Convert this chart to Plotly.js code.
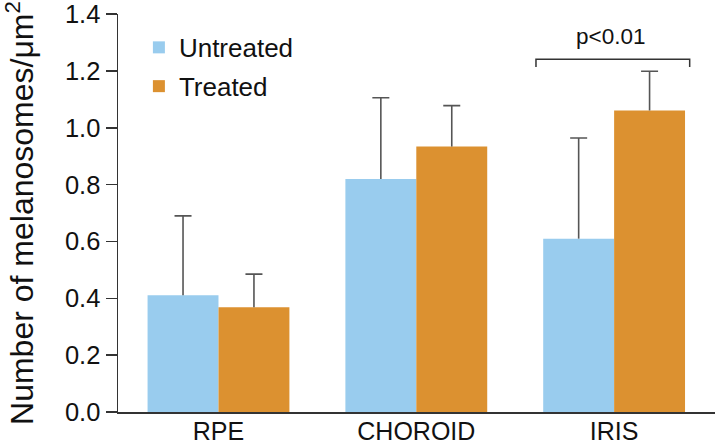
<!DOCTYPE html>
<html>
<head>
<meta charset="utf-8">
<script src="https://cdn.plot.ly/plotly-3.0.1.min.js"></script>
<style>
  html, body { margin: 0; padding: 0; background: #fff; }
  #chart { width: 716px; height: 442px; }
</style>
</head>
<body>
<div id="chart"></div>
<script>
// ---- data ----
const categories = ['RPE', 'CHOROID', 'IRIS'];
const untreated = [0.411, 0.820, 0.610];
const untreatedErr = [0.279, 0.286, 0.354];
const treated = [0.369, 0.934, 1.061];
const treatedErr = [0.116, 0.144, 0.138];
const seriesNames = ['Untreated', 'Treated'];
const pText = 'p<0.01';
const yTicks = [0, 0.2, 0.4, 0.6, 0.8, 1.0, 1.2, 1.4];

const colU = '#99CCEE';
const colT = '#DC9130';
const errCol = '#555555';
const fontFam = 'Liberation Sans, Arial, Helvetica, sans-serif';

function mainBar(name, vals, errs, color, group) {
  return {
    type: 'bar', name: name, x: categories, y: vals,
    offsetgroup: group, legendgroup: group,
    marker: { color: color, line: { width: 0 } },
    error_y: {
      type: 'data', symmetric: false, array: errs,
      arrayminus: vals.map(() => 0),
      color: errCol, thickness: 1.6, width: 0
    },
    hoverinfo: 'x+y'
  };
}
function capBar(vals, errs, group) {
  return {
    type: 'bar', x: categories, y: vals.map((v, i) => v + errs[i]),
    offsetgroup: group, legendgroup: group, showlegend: false,
    marker: { color: 'rgba(0,0,0,0)', line: { width: 0 } },
    error_y: { type: 'data', array: vals.map(() => 0), color: errCol, thickness: 1.6, width: 8.5 },
    hoverinfo: 'skip'
  };
}

const traces = [
  capBar(untreated, untreatedErr, 'u'),
  capBar(treated, treatedErr, 't'),
  mainBar(seriesNames[0], untreated, untreatedErr, colU, 'u'),
  mainBar(seriesNames[1], treated, treatedErr, colT, 't')
];

// significance bracket over IRIS
const iIdx = categories.indexOf('IRIS');
const bracketY = Math.max(untreated[iIdx] + untreatedErr[iIdx], treated[iIdx] + treatedErr[iIdx]) + 0.042;
const bx0 = iIdx - 0.395, bx1 = iIdx + 0.382, drop = 0.027;

const layout = {
  width: 716, height: 442,
  margin: { l: 117.5, r: 1, t: 14, b: 30, pad: 0 },
  paper_bgcolor: '#fff', plot_bgcolor: '#fff',
  font: { family: fontFam, color: '#111', size: 24 },
  barmode: 'group', bargap: 0.283, bargroupgap: 0,
  showlegend: true,
  legend: {
    x: 0.035, y: 0.975, xanchor: 'left', yanchor: 'top',
    font: { size: 26, color: '#111' }, bgcolor: 'rgba(0,0,0,0)',
    traceorder: 'grouped', tracegroupgap: 2
  },
  xaxis: {
    type: 'category', range: [-0.508, 2.51],
    showline: true, linecolor: '#333', linewidth: 1.5,
    ticks: '', showgrid: false, zeroline: false, automargin: false,
    tickfont: { size: 25, color: '#111' }, ticklabelstandoff: -4
  },
  yaxis: {
    range: [0, 1.4005], tickvals: yTicks, tickformat: '.1f',
    showline: true, linecolor: '#333', linewidth: 1.5,
    ticks: 'outside', ticklen: 11, tickwidth: 1.5, tickcolor: '#333',
    showgrid: false, zeroline: false, automargin: true,
    tickfont: { size: 25.5, color: '#111' },
    title: { text: 'Number of melanosomes/\u03BCm<sup>2</sup>', font: { size: 32, color: '#111' }, standoff: 37 }
  },
  shapes: [{
    type: 'path', xref: 'x', yref: 'y',
    path: 'M' + bx0 + ',' + (bracketY - drop) + ' L' + bx0 + ',' + bracketY +
          ' L' + bx1 + ',' + bracketY + ' L' + bx1 + ',' + (bracketY - drop),
    line: { color: '#333', width: 1.5 }
  }],
  annotations: [{
    x: iIdx - 0.02, y: bracketY + 0.08, xref: 'x', yref: 'y',
    text: pText, showarrow: false, yanchor: 'middle',
    font: { size: 22.5, color: '#111' }
  }]
};

Plotly.newPlot('chart', traces, layout, { displayModeBar: false, staticPlot: true });
</script>
</body>
</html>
